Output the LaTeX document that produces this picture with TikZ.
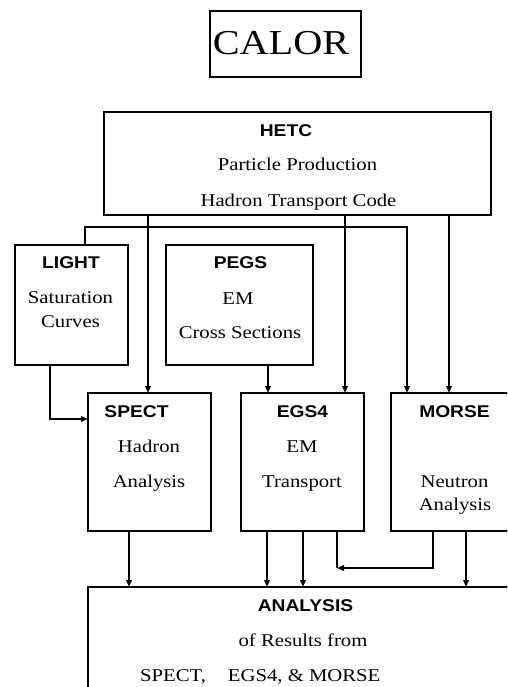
\documentclass[tikz,border=0pt]{standalone}
\usepackage{fontspec}
\setmainfont{Liberation Serif}[FakeStretch=1.15]
\newfontfamily\hdfont{Liberation Sans}[FakeStretch=1.13]
\usetikzlibrary{arrows.meta}
\begin{document}
\begin{tikzpicture}[x=1pt,y=-1pt,
  box/.style={draw,line width=1.8pt,inner sep=0pt,outer sep=0pt,minimum width=#1},
  arr/.style={line width=1.8pt,-{Triangle[length=7pt,width=5.5pt]}},
  ln/.style={line width=1.8pt},
  hd/.style={anchor=base,inner sep=0pt,font=\hdfont\bfseries\fontsize{17}{17}\selectfont},
  tx/.style={anchor=base,inner sep=0pt,font=\fontsize{18}{18}\selectfont},
]
\useasboundingbox (0,0) rectangle (507,687);
\clip (0,0) rectangle (507,687);
\fill[white] (0,0) rectangle (507,687);

% boxes
\node[box=151pt,minimum height=66pt] (calor) at (285.5,44) {};
\node[box=387pt,minimum height=103pt] (hetc) at (297.5,163.5) {};
\node[box=113pt,minimum height=120pt] (light) at (71.5,305) {};
\node[box=147pt,minimum height=120pt] (pegs) at (239.5,305) {};
\node[box=123pt,minimum height=138pt] (spect) at (149.5,462) {};
\node[box=123pt,minimum height=138pt] (egs) at (302.5,462) {};
\node[box=139pt,minimum height=138pt] (morse) at (460.5,462) {};
\node[box=442pt,minimum height=133pt] (analysis) at (309,653.5) {};

% texts
\node[anchor=base,inner sep=0pt,font=\fontsize{35}{35}\selectfont] (tcalor) at (281,55) {CALOR};
\node[hd] (thetc) at (286,137) {HETC};
\node[tx] (thetc1) at (297.5,171) {Particle Production};
\node[tx] (thetc2) at (298.5,206) {Hadron Transport Code};
\node[hd] (tlight) at (71,268) {LIGHT};
\node[tx] (tlight1) at (70.5,303) {Saturation};
\node[tx] (tlight2) at (70.5,327) {Curves};
\node[hd] (tpegs) at (240.5,268) {PEGS};
\node[tx] (tpegs1) at (238,304) {EM};
\node[tx] (tpegs2) at (240,338) {Cross Sections};
\node[hd] (tspect) at (136.5,417) {SPECT};
\node[tx] (tspect1) at (149,452) {Hadron};
\node[tx] (tspect2) at (149,487) {Analysis};
\node[hd] (tegs) at (302.5,417) {EGS4};
\node[tx] (tegs1) at (302,452) {EM};
\node[tx] (tegs2) at (302,487) {Transport};
\node[hd] (tmorse) at (454.5,417) {MORSE};
\node[tx] (tmorse1) at (454.5,487) {Neutron};
\node[tx] (tmorse2) at (455,510) {Analysis};
\node[hd] (tana) at (305.5,611) {ANALYSIS};
\node[tx] (tana1) at (303,646) {of Results from};
\node[tx,anchor=base west] (tana2) at (140,681) {SPECT,\hspace{22pt}EGS4, \& MORSE};

% helper coordinates
\coordinate (x50) at (50,0);
\coordinate (x85) at (85,0);
\coordinate (x129) at (129,0);
\coordinate (x148) at (148,0);
\coordinate (x267) at (267,0);
\coordinate (x268) at (268,0);
\coordinate (x303) at (303,0);
\coordinate (x337) at (337,0);
\coordinate (x345) at (345,0);
\coordinate (x407) at (407,0);
\coordinate (x433) at (433,0);
\coordinate (x449) at (449,0);
\coordinate (x466) at (466,0);
\coordinate (y419) at (0,419);
\coordinate (corner) at (337,568);

% connectors
\draw[arr] (hetc.south -| x148) -- (spect.north -| x148);
\draw[arr] (hetc.south -| x345) -- (egs.north -| x345);
\draw[arr] (hetc.south -| x449) -- (morse.north -| x449);
\draw[arr] (light.north -| x85) -- ++(0,-18) -| (morse.north -| x407);
\draw[arr] (light.south -| x50) |- (spect.west |- y419);
\draw[arr] (pegs.south -| x268) -- (egs.north -| x268);
\draw[arr] (spect.south -| x129) -- (analysis.north -| x129);
\draw[arr] (egs.south -| x267) -- (analysis.north -| x267);
\draw[arr] (egs.south -| x303) -- (analysis.north -| x303);
\draw[ln] (egs.south -| x337) -- (corner);
\draw[arr] (morse.south -| x433) |- (corner);
\draw[arr] (morse.south -| x466) -- (analysis.north -| x466);
\end{tikzpicture}
\end{document}
